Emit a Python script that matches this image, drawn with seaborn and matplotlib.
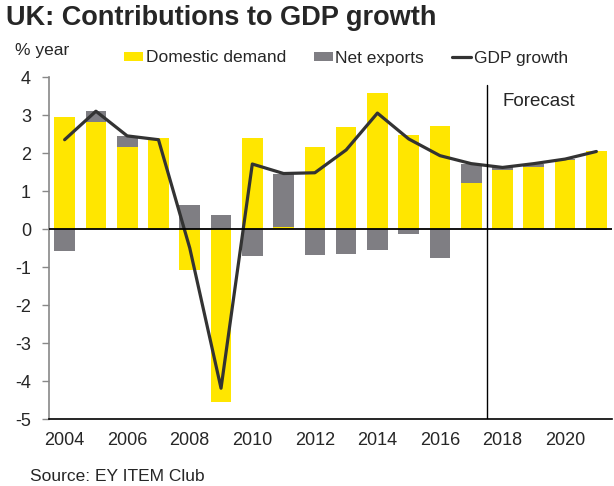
import numpy as np
import seaborn as sns
from matplotlib import pyplot as plt
from matplotlib.lines import Line2D
from matplotlib.patches import Patch

# values (% year)
years = np.arange(2004, 2022)
domestic = [2.94, 2.82, 2.15, 2.39, -1.07, -4.54, 2.39, 0.06, 2.17, 2.69,
            3.59, 2.47, 2.71, 1.20, 1.55, 1.62, 1.82, 2.04]
net_exports = [-0.57, 0.29, 0.30, -0.03, 0.62, 0.36, -0.70, 1.40, -0.68, -0.65,
               -0.55, -0.12, -0.75, 0.51, 0.07, 0.09, 0.02, -0.02]
gdp = [2.35, 3.10, 2.45, 2.35, -0.50, -4.19, 1.71, 1.46, 1.48, 2.08,
       3.05, 2.37, 1.93, 1.72, 1.62, 1.72, 1.84, 2.04]
xtick_years = [2004, 2006, 2008, 2010, 2012, 2014, 2016, 2018, 2020]
yticks = list(range(-5, 5))

YELLOW = "#FFE600"
GREY = "#7F7E83"
LINE = "#333333"

sns.set_style("white")
plt.rcParams["font.family"] = ["Liberation Sans", "DejaVu Sans"]
FS = 12.5
TICK_FS = 13

dom = np.array(domestic)
net = np.array(net_exports)
# Excel-style stacking: positives on positives, negatives on negatives
net_bottom = np.where(np.sign(net) == np.sign(dom), dom, 0.0)

fig = plt.figure(figsize=(6.14, 4.86), dpi=100)
ax = fig.add_axes([49 / 614, 1 - 419 / 486, 563 / 614, 342 / 486])

sns.barplot(x=years, y=dom, native_scale=True, width=0.66, color=YELLOW,
            saturation=1, errorbar=None, ax=ax, linewidth=0)
sns.barplot(x=years, y=net, native_scale=True, width=0.66, color=GREY,
            saturation=1, errorbar=None, ax=ax, linewidth=0, bottom=net_bottom)
sns.lineplot(x=years, y=gdp, color=LINE, lw=2.3, ax=ax)

ax.axhline(0, color="black", lw=1.3, zorder=3)
ax.axvline(2017.5, ymin=0, ymax=(3.8 + 5) / 9, color="black", lw=1)
ax.text(2018.0, 3.35, "Forecast", fontsize=13.5, va="center", ha="left")

ax.set_xlim(2003.5, 2021.5)
ax.set_ylim(-5, 4)
ax.set_yticks(yticks)
ax.set_yticklabels([str(v) for v in yticks])
ax.set_xticks(xtick_years)
ax.set_xticklabels([str(v) for v in xtick_years])
ax.set_xticks(np.arange(2003.5, 2022, 1), minor=True)
ax.tick_params(axis="x", which="major", length=0, pad=9, labelsize=TICK_FS)
ax.tick_params(axis="x", which="minor", length=5, width=1, color="black",
               direction="out")
ax.tick_params(axis="y", length=5, width=1, color="#888888", direction="out",
               pad=8, labelsize=TICK_FS, left=True)
ax.set_xlabel("")
ax.set_ylabel("")

for side in ["top", "right"]:
    ax.spines[side].set_visible(False)
ax.spines["left"].set_color("#888888")
ax.spines["left"].set_linewidth(1.2)
ax.spines["bottom"].set_color("black")
ax.spines["bottom"].set_linewidth(1.2)

handles = [
    Patch(facecolor=YELLOW, edgecolor="none", label="Domestic demand"),
    Patch(facecolor=GREY, edgecolor="none", label="Net exports"),
    Line2D([0], [0], color=LINE, lw=2.3, label="GDP growth"),
]
fig.legend(handles=handles, loc="center left",
           bbox_to_anchor=(124 / 614, 1 - 58 / 486), ncol=3, frameon=False,
           fontsize=FS, handlelength=1.1, handleheight=0.45,
           handletextpad=0.15, columnspacing=1.6, borderpad=0,
           borderaxespad=0)

fig.text(6 / 614, 1 - 18 / 486, "UK: Contributions to GDP growth",
         fontsize=19.5, fontweight="bold", va="center", ha="left")
fig.text(15 / 614, 1 - 50 / 486, "% year", fontsize=FS, va="center", ha="left")
fig.text(30 / 614, 1 - 476 / 486, "Source: EY ITEM Club", fontsize=FS,
         va="center", ha="left")

fig.savefig("out.png", dpi=100)
